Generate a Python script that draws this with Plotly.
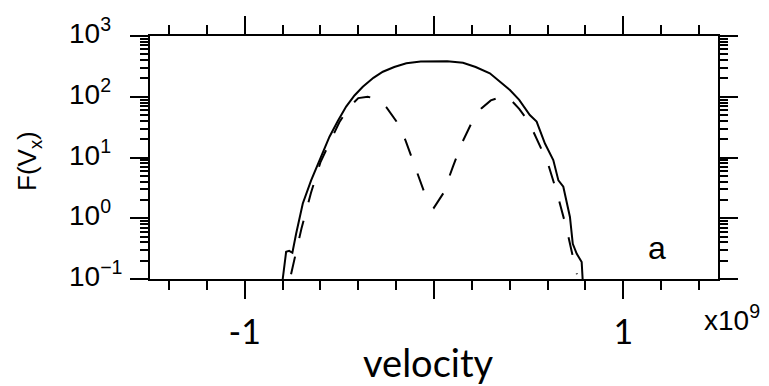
import math
import plotly.graph_objects as go

# Velocity samples (units of 1e9) and distribution values F(Vx)
v_total = [-0.799, -0.781, -0.765, -0.748, -0.728, -0.693, -0.649, -0.605, -0.552, -0.508,
           -0.464, -0.42, -0.376, -0.32, -0.27, -0.21, -0.146, -0.07, -0.005, 0.07,
           0.153, 0.22, 0.295, 0.35, 0.401, 0.45, 0.489, 0.506, 0.542, 0.586,
           0.630, 0.657, 0.683, 0.718, 0.733, 0.754, 0.780, 0.785]
f_total = [0.1, 0.28, 0.29, 0.27, 0.56, 1.75, 4.2, 9.1, 22, 40,
           69, 105, 146, 205, 258, 309, 355, 380, 387, 385,
           363, 309, 243, 178, 129, 89, 60, 50, 39, 17,
           9.1, 4.2, 3.3, 1.05, 0.38, 0.26, 0.19, 0.1]

v_split = [-0.755, -0.73, -0.70, -0.65, -0.60, -0.55, -0.50, -0.45, -0.40, -0.35, -0.30,
           -0.25, -0.20, -0.15, -0.10, -0.05, 0.0, 0.05, 0.10, 0.15, 0.20, 0.25,
           0.30, 0.35, 0.40, 0.45, 0.50, 0.55, 0.60, 0.65, 0.70, 0.73, 0.755]
f_split = [0.12, 0.26, 0.68, 2.6, 8.3, 18, 38, 66, 95, 100, 91,
           66, 40, 19, 7.1, 2.6, 1.5, 2.6, 7.1, 18, 38, 64,
           87, 98, 93, 63, 39, 18, 8.3, 2.6, 0.68, 0.26, 0.12]

x_tickvals = [-1, 0, 1]
x_ticktext = ["-1", "", "1"]
y_tickvals = [0.1, 1, 10, 100, 1000]
y_ticktext = ["10<sup>\u22121</sup>", "10<sup>0</sup>", "10<sup>1</sup>",
              "10<sup>2</sup>", "10<sup>3</sup>"]

fig = go.Figure()
fig.add_trace(go.Scatter(x=v_total, y=f_total, mode="lines",
                         line=dict(color="black", width=2)))
fig.add_trace(go.Scatter(x=v_split, y=f_split, mode="lines",
                         line=dict(color="black", width=2, dash="18px,19px")))

sans = "Liberation Sans, Arial, sans-serif"
axis_font = dict(family=sans, size=28, color="black")

# Decade labels on the left are left-aligned in a column, so they are placed as annotations
y_labels = [
    dict(text=t, xref="paper", yref="y", x=-0.146, y=math.log10(v), yshift=5,
         showarrow=False, xanchor="left", yanchor="middle", font=axis_font)
    for v, t in zip(y_tickvals, y_ticktext)
]

fig.update_layout(
    width=769, height=386,
    margin=dict(l=150, r=51, t=36, b=107),
    paper_bgcolor="white", plot_bgcolor="white",
    showlegend=False,
    xaxis=dict(
        range=[-1.5, 1.5], tickvals=x_tickvals, ticktext=x_ticktext,
        ticks="outside", ticklen=18, tickwidth=2, tickcolor="black",
        showline=True, linewidth=2, linecolor="black", mirror="ticks",
        showgrid=False, zeroline=False, automargin=False,
        tickfont=dict(family="Lato, sans-serif", size=34, color="black"),
        ticklabelstandoff=4,
        minor=dict(tick0=0, dtick=0.2, ticks="outside", ticklen=9, tickwidth=2,
                   tickcolor="black", showgrid=False),
    ),
    yaxis=dict(
        type="log", range=[-1, 3], tickvals=y_tickvals, showticklabels=False,
        ticks="outside", ticklen=18, tickwidth=2, tickcolor="black",
        showline=True, linewidth=2, linecolor="black", mirror="ticks",
        showgrid=False, zeroline=False, automargin=False,
        minor=dict(ticks="outside", ticklen=8, tickwidth=1.5, dtick="D1",
                   tickcolor="black", showgrid=False),
    ),
    annotations=y_labels + [
        dict(text="F(V<sub>x</sub>)", textangle=-90, xref="paper", yref="paper",
             x=-0.213, y=0.486, showarrow=False, xanchor="center", yanchor="middle",
             font=dict(family=sans, size=26, color="black")),
        dict(text="velocity", xref="paper", yref="paper", x=0.49, y=-0.342,
             showarrow=False, xanchor="center", yanchor="middle",
             font=dict(family="Lato, sans-serif", size=38, color="black")),
        dict(text="a", xref="paper", yref="paper", x=0.893, y=0.128,
             showarrow=False, xanchor="center", yanchor="middle",
             font=dict(family=sans, size=32, color="black")),
        dict(text="x10<sup>9</sup>", xref="paper", yref="paper", x=1.025, y=-0.16,
             showarrow=False, xanchor="center", yanchor="middle", font=axis_font),
    ],
)

fig.write_html("out.html")
